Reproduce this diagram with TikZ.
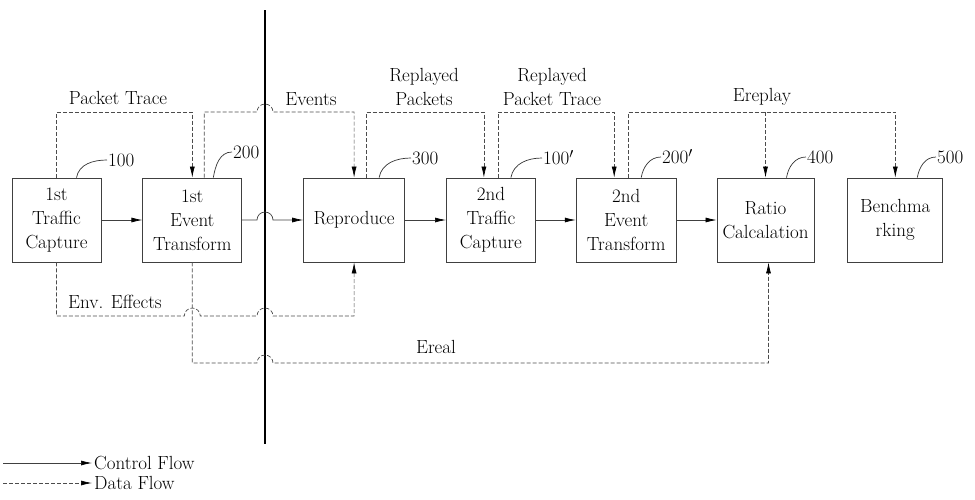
\documentclass[tikz,border=0pt]{standalone}
\usepackage{times}
\usetikzlibrary{positioning, arrows.meta}

\begin{document}
\begin{tikzpicture}[x=1pt, y=-1pt,
        font=\rmfamily\fontsize{19}{24}\selectfont,
        >={Latex[length=11pt,width=5pt,color=black]},
        block/.style={draw=black!75, line width=0.8pt, minimum height=84pt, align=center, inner sep=1pt},
        ctrlflow/.style={draw=black!75, line width=0.7pt},
        dataflow/.style={draw=black!70, line width=0.7pt, dash pattern=on 4pt off 2pt},
        refline/.style={draw=black!80, line width=0.7pt},
        refnum/.style={anchor=west, inner sep=1pt}]
        \useasboundingbox (0,0) rectangle (975,499);

        \node[block, minimum width=89pt] (tc1) at (56.5,220) {1st\\Traffic\\Capture};
        \node[block, minimum width=99pt, right=41pt of tc1] (et1) {1st\\Event\\Transform};
        \node[block, minimum width=101pt, right=61pt of et1] (rep) {Reproduce};
        \node[block, minimum width=89pt, right=41pt of rep] (tc2) {2nd\\Traffic\\Capture};
        \node[block, minimum width=100pt, right=40pt of tc2] (et2) {2nd\\Event\\Transform};
        \node[block, minimum width=97pt, right=40pt of et2] (ratio) {Ratio\\Calcalation};
        \node[block, minimum width=95pt, right=33pt of ratio] (bench) {Benchma\\rking};

        \coordinate (topy) at (0,112);
        \coordinate (envy) at (0,316);
        \coordinate (realy) at (0,363);
        \coordinate (divtop) at (265,10);
        \coordinate (divbot) at (265,444);

        \draw [line width=2.2pt] (divtop)--(divbot);

        \draw [ctrlflow,->] (tc1)--(et1);
        \draw [ctrlflow,->] (et1)--([xshift=-8pt]divtop |- et1.east) arc[start angle=180, end angle=0, radius=8pt]--(rep);
        \draw [ctrlflow,->] (rep)--(tc2);
        \draw [ctrlflow,->] (tc2)--(et2);
        \draw [ctrlflow,->] (et2)--(ratio);

        \node (pktlbl) at (118,98) {Packet Trace};
        \draw [dataflow,->] (tc1.north)--(tc1.north |- topy)--(et1.north |- topy)--(et1.north);

        \node (evlbl) at (311,99) {Events};
        \draw [dataflow,->] ([xshift=12pt]et1.north)--([xshift=12pt]et1.north |- topy)--([xshift=-8pt]divtop |- topy) arc[start angle=180, end angle=0, radius=8pt]--(rep.north |- topy)--(rep.north);

        \node[align=center] (rplbl) at (424,87) {Replayed\\Packets};
        \draw [dataflow,->] ([xshift=12pt]rep.north)--([xshift=12pt]rep.north |- topy)--([xshift=-7pt]tc2.north |- topy)--([xshift=-7pt]tc2.north);

        \node[align=center] (rptlbl) at (552,87) {Replayed\\Packet Trace};
        \draw [dataflow,->] ([xshift=7pt]tc2.north)--([xshift=7pt]tc2.north |- topy)--([xshift=-12pt]et2.north |- topy)--([xshift=-12pt]et2.north);

        \node (erplbl) at (762,97) {Ereplay};
        \draw [dataflow,->] ([xshift=2pt]et2.north)--([xshift=2pt]et2.north |- topy)--(bench.north |- topy)--(bench.north);
        \draw [dataflow,->] (ratio.north |- topy)--(ratio.north);

        \node (envlbl) at (115,302) {Env. Effects};
        \draw [dataflow,->] (tc1.south)--(tc1.south |- envy)--([xshift=-8pt]et1.south |- envy) arc[start angle=180, end angle=0, radius=8pt]--([xshift=-8pt]divbot |- envy) arc[start angle=180, end angle=0, radius=8pt]--(rep.south |- envy)--(rep.south);

        \node (erlbl) at (436,347) {Ereal};
        \draw [dataflow,->] (et1.south)--(et1.south |- realy)--([xshift=-8pt]divbot |- realy) arc[start angle=180, end angle=0, radius=8pt]--([xshift=3pt]ratio.south |- realy)--([xshift=3pt]ratio.south);

        \node[refnum] (n100) at (107,160) {100};
        \draw [refline] ([xshift=20pt]tc1.north) to[out=80, in=180] (n100.west);
        \node[refnum] (n200) at (232,152) {200};
        \draw [refline] ([xshift=21pt]et1.north) to[out=80, in=180] (n200.west);
        \node[refnum] (n300) at (411,158) {300};
        \draw [refline] ([xshift=25pt]rep.north) to[out=80, in=180] (n300.west);
        \node[refnum] (n100b) at (542,158) {100$'$};
        \draw [refline] ([xshift=20pt]tc2.north) to[out=80, in=180] (n100b.west);
        \node[refnum] (n200b) at (661,157) {200$'$};
        \draw [refline] ([xshift=15pt]et2.north) to[out=80, in=180] (n200b.west);
        \node[refnum] (n400) at (806,157) {400};
        \draw [refline] ([xshift=21pt]ratio.north) to[out=80, in=180] (n400.west);
        \node[refnum] (n500) at (936,157) {500};
        \draw [refline] ([xshift=22pt]bench.north) to[out=80, in=180] (n500.west);

        \coordinate (ctrlstart) at (3,463);
        \node[anchor=west, inner sep=1pt] (ctrllbl) at (93,463) {Control Flow};
        \draw [ctrlflow,->] (ctrlstart)--([xshift=-1pt]ctrllbl.west);
        \coordinate (datastart) at (3,483);
        \node[anchor=west, inner sep=1pt] (datalbl) at (93,483) {Data Flow};
        \draw [dataflow,->] (datastart)--([xshift=-1pt]datalbl.west);
    \end{tikzpicture}
\end{document}
